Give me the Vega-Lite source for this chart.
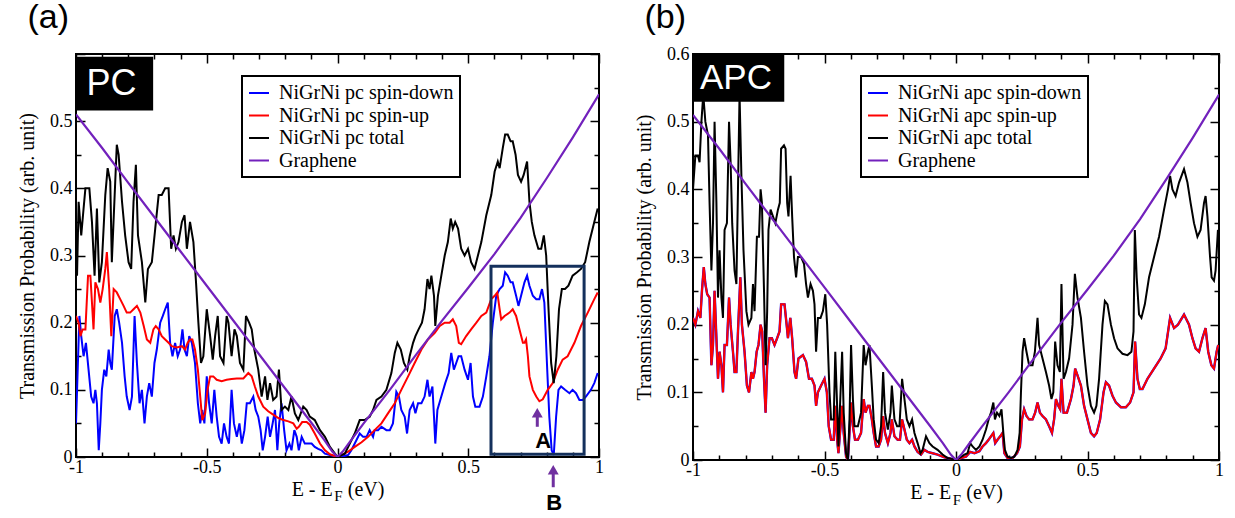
{
"$schema": "https://vega.github.io/schema/vega-lite/v6.json",
"background": "white",
"padding": {"left": 16, "top": 0, "right": 0, "bottom": 0},
"config": {
  "view": {"stroke": "#000", "strokeWidth": 2},
  "axis": {"labelFont": "Liberation Serif", "labelFontSize": 18, "labelColor": "#000", "titleFont": "Liberation Serif", "titleFontSize": 20, "titleFontWeight": "normal", "titleColor": "#000", "tickColor": "#000", "tickWidth": 1.5, "domain": false, "grid": false, "labelFlush": false, "labelOverlap": false, "labelBound": false},
  "legend": {"orient": "none", "title": null, "symbolType": "stroke", "symbolSize": 400, "symbolStrokeWidth": 2, "labelFont": "Liberation Serif", "labelFontSize": 20, "labelColor": "#000", "labelLimit": 300, "labelOffset": 9, "strokeColor": "#000", "strokeWidth": 2, "padding": 6, "rowPadding": 1.5, "fillColor": "#fff"},
  "title": {"font": "Liberation Sans", "fontSize": 34, "fontWeight": "normal", "anchor": "start", "color": "#000"}
},
"datasets": {
  "pcDown": [{"x":-1,"y":0.05},{"x":-0.987,"y":0.21},{"x":-0.98,"y":0.18},{"x":-0.971,"y":0.15},{"x":-0.962,"y":0.17},{"x":-0.952,"y":0.13},{"x":-0.942,"y":0.09},{"x":-0.933,"y":0.08},{"x":-0.926,"y":0.1},{"x":-0.92,"y":0.08},{"x":-0.913,"y":0.01},{"x":-0.907,"y":0.05},{"x":-0.901,"y":0.1},{"x":-0.892,"y":0.13},{"x":-0.884,"y":0.12},{"x":-0.875,"y":0.16},{"x":-0.869,"y":0.14},{"x":-0.863,"y":0.13},{"x":-0.852,"y":0.21},{"x":-0.844,"y":0.22},{"x":-0.835,"y":0.2},{"x":-0.824,"y":0.17},{"x":-0.814,"y":0.12},{"x":-0.806,"y":0.09},{"x":-0.795,"y":0.07},{"x":-0.786,"y":0.09},{"x":-0.776,"y":0.21},{"x":-0.767,"y":0.14},{"x":-0.757,"y":0.08},{"x":-0.748,"y":0.1},{"x":-0.738,"y":0.05},{"x":-0.729,"y":0.09},{"x":-0.72,"y":0.11},{"x":-0.71,"y":0.09},{"x":-0.7,"y":0.14},{"x":-0.691,"y":0.16},{"x":-0.678,"y":0.2},{"x":-0.668,"y":0.21},{"x":-0.659,"y":0.22},{"x":-0.649,"y":0.23},{"x":-0.64,"y":0.17},{"x":-0.631,"y":0.15},{"x":-0.621,"y":0.17},{"x":-0.611,"y":0.15},{"x":-0.602,"y":0.16},{"x":-0.593,"y":0.19},{"x":-0.585,"y":0.16},{"x":-0.576,"y":0.15},{"x":-0.567,"y":0.18},{"x":-0.557,"y":0.17},{"x":-0.545,"y":0.14},{"x":-0.534,"y":0.08},{"x":-0.525,"y":0.05},{"x":-0.517,"y":0.07},{"x":-0.509,"y":0.05},{"x":-0.5,"y":0.12},{"x":-0.491,"y":0.08},{"x":-0.481,"y":0.05},{"x":-0.471,"y":0.1},{"x":-0.462,"y":0.06},{"x":-0.453,"y":0.03},{"x":-0.443,"y":0.02},{"x":-0.434,"y":0.05},{"x":-0.424,"y":0.03},{"x":-0.415,"y":0.02},{"x":-0.405,"y":0.1},{"x":-0.396,"y":0.05},{"x":-0.385,"y":0.03},{"x":-0.375,"y":0.05},{"x":-0.366,"y":0.02},{"x":-0.356,"y":0.04},{"x":-0.347,"y":0.08},{"x":-0.335,"y":0.08},{"x":-0.322,"y":0.09},{"x":-0.313,"y":0.07},{"x":-0.303,"y":0.06},{"x":-0.294,"y":0.04},{"x":-0.286,"y":0.01},{"x":-0.277,"y":0.03},{"x":-0.267,"y":0.06},{"x":-0.258,"y":0.03},{"x":-0.248,"y":0.05},{"x":-0.239,"y":0.07},{"x":-0.23,"y":0.01},{"x":-0.223,"y":0.05},{"x":-0.214,"y":0.08},{"x":-0.204,"y":0.04},{"x":-0.195,"y":0.01},{"x":-0.184,"y":0.02},{"x":-0.176,"y":0.01},{"x":-0.165,"y":0.04},{"x":-0.156,"y":0.03},{"x":-0.148,"y":0.01},{"x":-0.137,"y":0.03},{"x":-0.125,"y":0.02},{"x":-0.112,"y":0.02},{"x":-0.099,"y":0.02},{"x":-0.087,"y":0.015},{"x":-0.074,"y":0.012},{"x":-0.061,"y":0.01},{"x":-0.048,"y":0.005},{"x":-0.029,"y":0.003},{"x":0,"y":0},{"x":0.022,"y":0.001},{"x":0.041,"y":0.003},{"x":0.053,"y":0.01},{"x":0.066,"y":0.02},{"x":0.085,"y":0.035},{"x":0.098,"y":0.03},{"x":0.111,"y":0.03},{"x":0.123,"y":0.04},{"x":0.136,"y":0.03},{"x":0.142,"y":0.04},{"x":0.155,"y":0.04},{"x":0.168,"y":0.045},{"x":0.187,"y":0.04},{"x":0.2,"y":0.04},{"x":0.212,"y":0.05},{"x":0.225,"y":0.097},{"x":0.235,"y":0.09},{"x":0.244,"y":0.07},{"x":0.257,"y":0.06},{"x":0.266,"y":0.035},{"x":0.276,"y":0.07},{"x":0.289,"y":0.08},{"x":0.298,"y":0.065},{"x":0.308,"y":0.08},{"x":0.321,"y":0.08},{"x":0.333,"y":0.09},{"x":0.344,"y":0.115},{"x":0.352,"y":0.09},{"x":0.363,"y":0.105},{"x":0.369,"y":0.06},{"x":0.374,"y":0.02},{"x":0.382,"y":0.07},{"x":0.397,"y":0.09},{"x":0.412,"y":0.11},{"x":0.425,"y":0.125},{"x":0.435,"y":0.155},{"x":0.445,"y":0.13},{"x":0.454,"y":0.14},{"x":0.463,"y":0.15},{"x":0.473,"y":0.15},{"x":0.486,"y":0.13},{"x":0.499,"y":0.115},{"x":0.509,"y":0.14},{"x":0.518,"y":0.09},{"x":0.527,"y":0.075},{"x":0.543,"y":0.075},{"x":0.556,"y":0.09},{"x":0.569,"y":0.12},{"x":0.581,"y":0.15},{"x":0.594,"y":0.2},{"x":0.607,"y":0.24},{"x":0.62,"y":0.25},{"x":0.632,"y":0.255},{"x":0.641,"y":0.275},{"x":0.651,"y":0.27},{"x":0.662,"y":0.26},{"x":0.67,"y":0.26},{"x":0.683,"y":0.24},{"x":0.692,"y":0.225},{"x":0.702,"y":0.24},{"x":0.715,"y":0.26},{"x":0.725,"y":0.27},{"x":0.734,"y":0.255},{"x":0.747,"y":0.24},{"x":0.76,"y":0.235},{"x":0.772,"y":0.235},{"x":0.782,"y":0.25},{"x":0.791,"y":0.23},{"x":0.802,"y":0.13},{"x":0.81,"y":0.06},{"x":0.819,"y":0.01},{"x":0.827,"y":0.003},{"x":0.836,"y":0.06},{"x":0.845,"y":0.1},{"x":0.855,"y":0.105},{"x":0.87,"y":0.1},{"x":0.887,"y":0.095},{"x":0.899,"y":0.1},{"x":0.912,"y":0.095},{"x":0.925,"y":0.085},{"x":0.938,"y":0.085},{"x":0.95,"y":0.09},{"x":0.969,"y":0.1},{"x":0.982,"y":0.11},{"x":0.995,"y":0.125}],
  "pcUp": [{"x":-1,"y":0.21},{"x":-0.99,"y":0.2},{"x":-0.983,"y":0.18},{"x":-0.975,"y":0.19},{"x":-0.964,"y":0.19},{"x":-0.954,"y":0.27},{"x":-0.945,"y":0.27},{"x":-0.939,"y":0.23},{"x":-0.933,"y":0.19},{"x":-0.926,"y":0.26},{"x":-0.916,"y":0.25},{"x":-0.907,"y":0.23},{"x":-0.898,"y":0.25},{"x":-0.888,"y":0.28},{"x":-0.882,"y":0.305},{"x":-0.873,"y":0.25},{"x":-0.865,"y":0.18},{"x":-0.856,"y":0.25},{"x":-0.844,"y":0.245},{"x":-0.831,"y":0.235},{"x":-0.818,"y":0.225},{"x":-0.806,"y":0.215},{"x":-0.793,"y":0.215},{"x":-0.78,"y":0.22},{"x":-0.767,"y":0.225},{"x":-0.754,"y":0.215},{"x":-0.741,"y":0.195},{"x":-0.729,"y":0.175},{"x":-0.716,"y":0.17},{"x":-0.704,"y":0.19},{"x":-0.695,"y":0.195},{"x":-0.684,"y":0.19},{"x":-0.672,"y":0.18},{"x":-0.659,"y":0.175},{"x":-0.646,"y":0.17},{"x":-0.634,"y":0.165},{"x":-0.615,"y":0.163},{"x":-0.595,"y":0.165},{"x":-0.583,"y":0.16},{"x":-0.573,"y":0.17},{"x":-0.564,"y":0.175},{"x":-0.555,"y":0.175},{"x":-0.545,"y":0.16},{"x":-0.534,"y":0.13},{"x":-0.525,"y":0.09},{"x":-0.517,"y":0.055},{"x":-0.506,"y":0.065},{"x":-0.497,"y":0.1},{"x":-0.487,"y":0.12},{"x":-0.475,"y":0.12},{"x":-0.462,"y":0.115},{"x":-0.443,"y":0.113},{"x":-0.424,"y":0.115},{"x":-0.405,"y":0.116},{"x":-0.385,"y":0.117},{"x":-0.36,"y":0.117},{"x":-0.341,"y":0.125},{"x":-0.328,"y":0.12},{"x":-0.316,"y":0.105},{"x":-0.303,"y":0.09},{"x":-0.284,"y":0.075},{"x":-0.265,"y":0.068},{"x":-0.246,"y":0.063},{"x":-0.226,"y":0.058},{"x":-0.207,"y":0.055},{"x":-0.188,"y":0.053},{"x":-0.169,"y":0.05},{"x":-0.156,"y":0.042},{"x":-0.148,"y":0.045},{"x":-0.135,"y":0.052},{"x":-0.118,"y":0.052},{"x":-0.106,"y":0.048},{"x":-0.087,"y":0.035},{"x":-0.067,"y":0.02},{"x":-0.048,"y":0.01},{"x":-0.029,"y":0.004},{"x":0,"y":0},{"x":0.041,"y":0.008},{"x":0.066,"y":0.015},{"x":0.092,"y":0.022},{"x":0.117,"y":0.03},{"x":0.142,"y":0.04},{"x":0.168,"y":0.05},{"x":0.193,"y":0.065},{"x":0.219,"y":0.08},{"x":0.244,"y":0.1},{"x":0.27,"y":0.12},{"x":0.295,"y":0.14},{"x":0.321,"y":0.16},{"x":0.346,"y":0.175},{"x":0.372,"y":0.185},{"x":0.391,"y":0.195},{"x":0.41,"y":0.2},{"x":0.429,"y":0.2},{"x":0.441,"y":0.205},{"x":0.454,"y":0.195},{"x":0.464,"y":0.17},{"x":0.473,"y":0.168},{"x":0.492,"y":0.18},{"x":0.511,"y":0.19},{"x":0.531,"y":0.2},{"x":0.55,"y":0.21},{"x":0.569,"y":0.215},{"x":0.588,"y":0.235},{"x":0.601,"y":0.24},{"x":0.611,"y":0.245},{"x":0.62,"y":0.22},{"x":0.626,"y":0.205},{"x":0.639,"y":0.21},{"x":0.658,"y":0.215},{"x":0.67,"y":0.22},{"x":0.683,"y":0.21},{"x":0.696,"y":0.19},{"x":0.709,"y":0.17},{"x":0.715,"y":0.17},{"x":0.721,"y":0.175},{"x":0.728,"y":0.15},{"x":0.734,"y":0.12},{"x":0.747,"y":0.1},{"x":0.76,"y":0.09},{"x":0.772,"y":0.083},{"x":0.785,"y":0.086},{"x":0.804,"y":0.1},{"x":0.823,"y":0.11},{"x":0.842,"y":0.13},{"x":0.861,"y":0.145},{"x":0.88,"y":0.15},{"x":0.906,"y":0.17},{"x":0.931,"y":0.195},{"x":0.957,"y":0.215},{"x":0.982,"y":0.235},{"x":0.995,"y":0.245}],
  "pcTot": [{"x":-0.996,"y":0.27},{"x":-0.99,"y":0.38},{"x":-0.98,"y":0.33},{"x":-0.971,"y":0.37},{"x":-0.964,"y":0.4},{"x":-0.949,"y":0.4},{"x":-0.939,"y":0.35},{"x":-0.929,"y":0.27},{"x":-0.92,"y":0.37},{"x":-0.911,"y":0.26},{"x":-0.901,"y":0.29},{"x":-0.888,"y":0.39},{"x":-0.879,"y":0.43},{"x":-0.869,"y":0.41},{"x":-0.863,"y":0.29},{"x":-0.844,"y":0.465},{"x":-0.837,"y":0.45},{"x":-0.824,"y":0.38},{"x":-0.812,"y":0.33},{"x":-0.799,"y":0.29},{"x":-0.789,"y":0.28},{"x":-0.78,"y":0.38},{"x":-0.771,"y":0.435},{"x":-0.763,"y":0.33},{"x":-0.748,"y":0.29},{"x":-0.735,"y":0.23},{"x":-0.725,"y":0.28},{"x":-0.71,"y":0.29},{"x":-0.697,"y":0.34},{"x":-0.684,"y":0.39},{"x":-0.672,"y":0.39},{"x":-0.659,"y":0.4},{"x":-0.646,"y":0.4},{"x":-0.636,"y":0.31},{"x":-0.627,"y":0.33},{"x":-0.618,"y":0.31},{"x":-0.608,"y":0.32},{"x":-0.595,"y":0.35},{"x":-0.585,"y":0.36},{"x":-0.576,"y":0.31},{"x":-0.564,"y":0.35},{"x":-0.551,"y":0.32},{"x":-0.541,"y":0.26},{"x":-0.532,"y":0.2},{"x":-0.522,"y":0.14},{"x":-0.513,"y":0.15},{"x":-0.5,"y":0.22},{"x":-0.487,"y":0.18},{"x":-0.477,"y":0.145},{"x":-0.468,"y":0.18},{"x":-0.458,"y":0.21},{"x":-0.449,"y":0.15},{"x":-0.436,"y":0.14},{"x":-0.424,"y":0.21},{"x":-0.417,"y":0.2},{"x":-0.405,"y":0.15},{"x":-0.394,"y":0.19},{"x":-0.385,"y":0.18},{"x":-0.373,"y":0.14},{"x":-0.36,"y":0.13},{"x":-0.35,"y":0.21},{"x":-0.338,"y":0.2},{"x":-0.328,"y":0.19},{"x":-0.318,"y":0.16},{"x":-0.303,"y":0.13},{"x":-0.29,"y":0.09},{"x":-0.277,"y":0.12},{"x":-0.268,"y":0.085},{"x":-0.258,"y":0.11},{"x":-0.246,"y":0.085},{"x":-0.233,"y":0.09},{"x":-0.224,"y":0.13},{"x":-0.214,"y":0.07},{"x":-0.201,"y":0.075},{"x":-0.188,"y":0.07},{"x":-0.176,"y":0.09},{"x":-0.163,"y":0.065},{"x":-0.15,"y":0.055},{"x":-0.131,"y":0.075},{"x":-0.118,"y":0.07},{"x":-0.106,"y":0.06},{"x":-0.087,"y":0.055},{"x":-0.067,"y":0.04},{"x":-0.048,"y":0.03},{"x":-0.029,"y":0.015},{"x":0,"y":0},{"x":0.028,"y":0.005},{"x":0.047,"y":0.02},{"x":0.066,"y":0.035},{"x":0.085,"y":0.055},{"x":0.104,"y":0.055},{"x":0.123,"y":0.06},{"x":0.136,"y":0.07},{"x":0.149,"y":0.085},{"x":0.168,"y":0.09},{"x":0.187,"y":0.1},{"x":0.206,"y":0.125},{"x":0.219,"y":0.155},{"x":0.229,"y":0.17},{"x":0.242,"y":0.16},{"x":0.254,"y":0.14},{"x":0.267,"y":0.13},{"x":0.276,"y":0.15},{"x":0.289,"y":0.17},{"x":0.298,"y":0.18},{"x":0.31,"y":0.19},{"x":0.323,"y":0.2},{"x":0.333,"y":0.22},{"x":0.344,"y":0.265},{"x":0.352,"y":0.25},{"x":0.359,"y":0.27},{"x":0.369,"y":0.24},{"x":0.374,"y":0.195},{"x":0.384,"y":0.24},{"x":0.397,"y":0.27},{"x":0.41,"y":0.3},{"x":0.422,"y":0.32},{"x":0.433,"y":0.355},{"x":0.441,"y":0.34},{"x":0.45,"y":0.35},{"x":0.461,"y":0.34},{"x":0.473,"y":0.31},{"x":0.486,"y":0.3},{"x":0.499,"y":0.31},{"x":0.511,"y":0.29},{"x":0.524,"y":0.28},{"x":0.537,"y":0.3},{"x":0.55,"y":0.32},{"x":0.569,"y":0.36},{"x":0.588,"y":0.39},{"x":0.601,"y":0.425},{"x":0.613,"y":0.44},{"x":0.62,"y":0.43},{"x":0.632,"y":0.46},{"x":0.641,"y":0.48},{"x":0.651,"y":0.48},{"x":0.662,"y":0.47},{"x":0.67,"y":0.47},{"x":0.681,"y":0.45},{"x":0.69,"y":0.42},{"x":0.702,"y":0.41},{"x":0.712,"y":0.42},{"x":0.725,"y":0.44},{"x":0.734,"y":0.38},{"x":0.743,"y":0.35},{"x":0.753,"y":0.33},{"x":0.768,"y":0.31},{"x":0.779,"y":0.31},{"x":0.789,"y":0.33},{"x":0.798,"y":0.3},{"x":0.807,"y":0.22},{"x":0.817,"y":0.14},{"x":0.827,"y":0.11},{"x":0.837,"y":0.15},{"x":0.847,"y":0.22},{"x":0.858,"y":0.25},{"x":0.87,"y":0.25},{"x":0.883,"y":0.255},{"x":0.899,"y":0.27},{"x":0.916,"y":0.275},{"x":0.931,"y":0.28},{"x":0.947,"y":0.29},{"x":0.963,"y":0.32},{"x":0.982,"y":0.35},{"x":0.995,"y":0.37}],
  "graphene": [{"x":-1,"y":0.51},{"x":-0.9,"y":0.46},{"x":-0.8,"y":0.408},{"x":-0.7,"y":0.357},{"x":-0.6,"y":0.306},{"x":-0.5,"y":0.255},{"x":-0.4,"y":0.204},{"x":-0.3,"y":0.153},{"x":-0.2,"y":0.102},{"x":-0.1,"y":0.051},{"x":-0.05,"y":0.025},{"x":-0.02,"y":0.008},{"x":0,"y":0},{"x":0.02,"y":0.008},{"x":0.05,"y":0.024},{"x":0.1,"y":0.05},{"x":0.2,"y":0.1},{"x":0.3,"y":0.152},{"x":0.4,"y":0.203},{"x":0.5,"y":0.252},{"x":0.6,"y":0.302},{"x":0.7,"y":0.356},{"x":0.8,"y":0.415},{"x":0.9,"y":0.476},{"x":1,"y":0.54}],
  "apcSpin": [{"x":-1,"y":0.21},{"x":-0.991,"y":0.2},{"x":-0.981,"y":0.22},{"x":-0.972,"y":0.21},{"x":-0.966,"y":0.25},{"x":-0.959,"y":0.285},{"x":-0.953,"y":0.26},{"x":-0.946,"y":0.245},{"x":-0.937,"y":0.24},{"x":-0.93,"y":0.14},{"x":-0.924,"y":0.17},{"x":-0.918,"y":0.25},{"x":-0.911,"y":0.18},{"x":-0.905,"y":0.12},{"x":-0.899,"y":0.16},{"x":-0.892,"y":0.14},{"x":-0.886,"y":0.1},{"x":-0.88,"y":0.17},{"x":-0.871,"y":0.17},{"x":-0.863,"y":0.24},{"x":-0.857,"y":0.2},{"x":-0.848,"y":0.16},{"x":-0.842,"y":0.13},{"x":-0.835,"y":0.13},{"x":-0.829,"y":0.19},{"x":-0.82,"y":0.27},{"x":-0.814,"y":0.2},{"x":-0.804,"y":0.16},{"x":-0.795,"y":0.11},{"x":-0.787,"y":0.1},{"x":-0.778,"y":0.13},{"x":-0.772,"y":0.12},{"x":-0.766,"y":0.13},{"x":-0.758,"y":0.16},{"x":-0.751,"y":0.17},{"x":-0.743,"y":0.2},{"x":-0.737,"y":0.19},{"x":-0.73,"y":0.12},{"x":-0.724,"y":0.07},{"x":-0.718,"y":0.14},{"x":-0.709,"y":0.18},{"x":-0.7,"y":0.18},{"x":-0.69,"y":0.17},{"x":-0.68,"y":0.18},{"x":-0.671,"y":0.19},{"x":-0.665,"y":0.23},{"x":-0.652,"y":0.23},{"x":-0.644,"y":0.2},{"x":-0.639,"y":0.18},{"x":-0.63,"y":0.21},{"x":-0.623,"y":0.18},{"x":-0.614,"y":0.13},{"x":-0.608,"y":0.12},{"x":-0.599,"y":0.15},{"x":-0.582,"y":0.155},{"x":-0.57,"y":0.145},{"x":-0.559,"y":0.12},{"x":-0.548,"y":0.12},{"x":-0.538,"y":0.11},{"x":-0.532,"y":0.08},{"x":-0.525,"y":0.1},{"x":-0.513,"y":0.11},{"x":-0.5,"y":0.12},{"x":-0.491,"y":0.1},{"x":-0.484,"y":0.05},{"x":-0.475,"y":0.03},{"x":-0.465,"y":0.03},{"x":-0.459,"y":0.08},{"x":-0.452,"y":0.03},{"x":-0.447,"y":0.01},{"x":-0.439,"y":0.05},{"x":-0.433,"y":0.08},{"x":-0.427,"y":0.04},{"x":-0.418,"y":0.005},{"x":-0.411,"y":0},{"x":-0.405,"y":0.04},{"x":-0.399,"y":0.085},{"x":-0.392,"y":0.05},{"x":-0.384,"y":0.03},{"x":-0.373,"y":0.03},{"x":-0.361,"y":0.04},{"x":-0.351,"y":0.09},{"x":-0.344,"y":0.07},{"x":-0.335,"y":0.08},{"x":-0.329,"y":0.08},{"x":-0.32,"y":0.06},{"x":-0.313,"y":0.04},{"x":-0.304,"y":0.02},{"x":-0.294,"y":0.02},{"x":-0.285,"y":0.03},{"x":-0.277,"y":0.065},{"x":-0.27,"y":0.04},{"x":-0.259,"y":0.025},{"x":-0.249,"y":0.04},{"x":-0.244,"y":0.06},{"x":-0.234,"y":0.035},{"x":-0.222,"y":0.03},{"x":-0.213,"y":0.03},{"x":-0.205,"y":0.06},{"x":-0.196,"y":0.045},{"x":-0.187,"y":0.03},{"x":-0.177,"y":0.025},{"x":-0.167,"y":0.03},{"x":-0.158,"y":0.02},{"x":-0.146,"y":0.012},{"x":-0.133,"y":0.008},{"x":-0.12,"y":0.015},{"x":-0.108,"y":0.012},{"x":-0.089,"y":0.01},{"x":-0.07,"y":0.008},{"x":-0.044,"y":0.004},{"x":0,"y":0},{"x":0.019,"y":0.003},{"x":0.038,"y":0.005},{"x":0.054,"y":0.012},{"x":0.07,"y":0.01},{"x":0.089,"y":0.013},{"x":0.101,"y":0.02},{"x":0.114,"y":0.025},{"x":0.124,"y":0.03},{"x":0.133,"y":0.035},{"x":0.142,"y":0.04},{"x":0.149,"y":0.025},{"x":0.158,"y":0.03},{"x":0.168,"y":0.035},{"x":0.177,"y":0.04},{"x":0.184,"y":0.01},{"x":0.196,"y":0.003},{"x":0.215,"y":0.003},{"x":0.232,"y":0.01},{"x":0.243,"y":0.02},{"x":0.251,"y":0.06},{"x":0.259,"y":0.075},{"x":0.268,"y":0.065},{"x":0.278,"y":0.06},{"x":0.291,"y":0.06},{"x":0.301,"y":0.07},{"x":0.31,"y":0.085},{"x":0.319,"y":0.07},{"x":0.329,"y":0.065},{"x":0.342,"y":0.06},{"x":0.354,"y":0.05},{"x":0.365,"y":0.04},{"x":0.373,"y":0.06},{"x":0.38,"y":0.09},{"x":0.389,"y":0.08},{"x":0.396,"y":0.075},{"x":0.401,"y":0.12},{"x":0.409,"y":0.07},{"x":0.422,"y":0.07},{"x":0.437,"y":0.09},{"x":0.447,"y":0.11},{"x":0.453,"y":0.135},{"x":0.462,"y":0.125},{"x":0.475,"y":0.11},{"x":0.487,"y":0.08},{"x":0.5,"y":0.06},{"x":0.513,"y":0.04},{"x":0.525,"y":0.035},{"x":0.535,"y":0.04},{"x":0.548,"y":0.06},{"x":0.561,"y":0.1},{"x":0.57,"y":0.115},{"x":0.582,"y":0.11},{"x":0.595,"y":0.095},{"x":0.608,"y":0.085},{"x":0.627,"y":0.078},{"x":0.646,"y":0.078},{"x":0.662,"y":0.085},{"x":0.675,"y":0.1},{"x":0.681,"y":0.175},{"x":0.69,"y":0.12},{"x":0.699,"y":0.105},{"x":0.709,"y":0.105},{"x":0.728,"y":0.12},{"x":0.753,"y":0.135},{"x":0.778,"y":0.15},{"x":0.797,"y":0.165},{"x":0.814,"y":0.21},{"x":0.829,"y":0.195},{"x":0.844,"y":0.2},{"x":0.867,"y":0.215},{"x":0.886,"y":0.2},{"x":0.899,"y":0.18},{"x":0.911,"y":0.165},{"x":0.924,"y":0.16},{"x":0.937,"y":0.18},{"x":0.949,"y":0.195},{"x":0.959,"y":0.16},{"x":0.971,"y":0.14},{"x":0.981,"y":0.135},{"x":0.991,"y":0.16},{"x":0.997,"y":0.17}],
  "apcTot": [{"x":-1,"y":0.4},{"x":-0.991,"y":0.45},{"x":-0.981,"y":0.45},{"x":-0.975,"y":0.44},{"x":-0.968,"y":0.5},{"x":-0.961,"y":0.54},{"x":-0.953,"y":0.5},{"x":-0.943,"y":0.48},{"x":-0.937,"y":0.38},{"x":-0.93,"y":0.28},{"x":-0.924,"y":0.35},{"x":-0.918,"y":0.5},{"x":-0.911,"y":0.38},{"x":-0.905,"y":0.24},{"x":-0.899,"y":0.31},{"x":-0.892,"y":0.24},{"x":-0.886,"y":0.21},{"x":-0.88,"y":0.34},{"x":-0.871,"y":0.35},{"x":-0.863,"y":0.5},{"x":-0.857,"y":0.44},{"x":-0.851,"y":0.35},{"x":-0.842,"y":0.28},{"x":-0.835,"y":0.26},{"x":-0.829,"y":0.4},{"x":-0.823,"y":0.54},{"x":-0.816,"y":0.42},{"x":-0.808,"y":0.31},{"x":-0.797,"y":0.22},{"x":-0.789,"y":0.2},{"x":-0.778,"y":0.21},{"x":-0.772,"y":0.26},{"x":-0.766,"y":0.22},{"x":-0.757,"y":0.33},{"x":-0.749,"y":0.33},{"x":-0.743,"y":0.4},{"x":-0.738,"y":0.38},{"x":-0.73,"y":0.25},{"x":-0.724,"y":0.14},{"x":-0.718,"y":0.22},{"x":-0.713,"y":0.34},{"x":-0.705,"y":0.37},{"x":-0.696,"y":0.36},{"x":-0.687,"y":0.35},{"x":-0.677,"y":0.37},{"x":-0.67,"y":0.38},{"x":-0.665,"y":0.46},{"x":-0.654,"y":0.465},{"x":-0.648,"y":0.46},{"x":-0.642,"y":0.38},{"x":-0.637,"y":0.36},{"x":-0.629,"y":0.42},{"x":-0.623,"y":0.36},{"x":-0.616,"y":0.3},{"x":-0.608,"y":0.27},{"x":-0.601,"y":0.3},{"x":-0.589,"y":0.3},{"x":-0.578,"y":0.29},{"x":-0.57,"y":0.26},{"x":-0.563,"y":0.24},{"x":-0.553,"y":0.26},{"x":-0.544,"y":0.25},{"x":-0.538,"y":0.23},{"x":-0.532,"y":0.16},{"x":-0.525,"y":0.21},{"x":-0.515,"y":0.21},{"x":-0.506,"y":0.22},{"x":-0.497,"y":0.245},{"x":-0.49,"y":0.2},{"x":-0.481,"y":0.1},{"x":-0.475,"y":0.06},{"x":-0.465,"y":0.06},{"x":-0.459,"y":0.16},{"x":-0.452,"y":0.08},{"x":-0.447,"y":0.02},{"x":-0.439,"y":0.1},{"x":-0.433,"y":0.16},{"x":-0.427,"y":0.07},{"x":-0.418,"y":0.01},{"x":-0.411,"y":0},{"x":-0.405,"y":0.06},{"x":-0.399,"y":0.17},{"x":-0.392,"y":0.09},{"x":-0.386,"y":0.05},{"x":-0.373,"y":0.05},{"x":-0.361,"y":0.07},{"x":-0.351,"y":0.17},{"x":-0.344,"y":0.14},{"x":-0.335,"y":0.16},{"x":-0.329,"y":0.17},{"x":-0.32,"y":0.11},{"x":-0.313,"y":0.06},{"x":-0.304,"y":0.03},{"x":-0.294,"y":0.025},{"x":-0.285,"y":0.05},{"x":-0.277,"y":0.13},{"x":-0.27,"y":0.07},{"x":-0.259,"y":0.045},{"x":-0.249,"y":0.07},{"x":-0.244,"y":0.11},{"x":-0.234,"y":0.06},{"x":-0.224,"y":0.05},{"x":-0.215,"y":0.05},{"x":-0.205,"y":0.12},{"x":-0.196,"y":0.09},{"x":-0.187,"y":0.06},{"x":-0.177,"y":0.05},{"x":-0.167,"y":0.06},{"x":-0.158,"y":0.04},{"x":-0.146,"y":0.025},{"x":-0.135,"y":0.01},{"x":-0.127,"y":0.015},{"x":-0.114,"y":0.035},{"x":-0.101,"y":0.025},{"x":-0.089,"y":0.02},{"x":-0.07,"y":0.015},{"x":-0.051,"y":0.008},{"x":-0.032,"y":0.003},{"x":0,"y":0},{"x":0.013,"y":0.003},{"x":0.032,"y":0.008},{"x":0.044,"y":0.01},{"x":0.054,"y":0.025},{"x":0.063,"y":0.02},{"x":0.076,"y":0.015},{"x":0.089,"y":0.02},{"x":0.101,"y":0.03},{"x":0.114,"y":0.045},{"x":0.124,"y":0.06},{"x":0.133,"y":0.07},{"x":0.142,"y":0.085},{"x":0.148,"y":0.06},{"x":0.156,"y":0.07},{"x":0.165,"y":0.065},{"x":0.173,"y":0.075},{"x":0.18,"y":0.04},{"x":0.186,"y":0.015},{"x":0.196,"y":0.005},{"x":0.209,"y":0.003},{"x":0.222,"y":0.005},{"x":0.234,"y":0.015},{"x":0.242,"y":0.04},{"x":0.247,"y":0.1},{"x":0.253,"y":0.16},{"x":0.259,"y":0.18},{"x":0.268,"y":0.16},{"x":0.278,"y":0.14},{"x":0.291,"y":0.14},{"x":0.3,"y":0.16},{"x":0.31,"y":0.21},{"x":0.316,"y":0.17},{"x":0.329,"y":0.15},{"x":0.342,"y":0.13},{"x":0.354,"y":0.11},{"x":0.363,"y":0.09},{"x":0.37,"y":0.1},{"x":0.377,"y":0.175},{"x":0.386,"y":0.14},{"x":0.395,"y":0.13},{"x":0.401,"y":0.26},{"x":0.409,"y":0.12},{"x":0.418,"y":0.13},{"x":0.43,"y":0.15},{"x":0.443,"y":0.2},{"x":0.452,"y":0.275},{"x":0.462,"y":0.24},{"x":0.475,"y":0.21},{"x":0.487,"y":0.16},{"x":0.5,"y":0.11},{"x":0.513,"y":0.08},{"x":0.525,"y":0.07},{"x":0.534,"y":0.08},{"x":0.544,"y":0.12},{"x":0.557,"y":0.2},{"x":0.566,"y":0.235},{"x":0.576,"y":0.23},{"x":0.589,"y":0.2},{"x":0.601,"y":0.18},{"x":0.614,"y":0.165},{"x":0.633,"y":0.157},{"x":0.652,"y":0.155},{"x":0.667,"y":0.16},{"x":0.675,"y":0.19},{"x":0.68,"y":0.34},{"x":0.687,"y":0.27},{"x":0.696,"y":0.215},{"x":0.705,"y":0.21},{"x":0.718,"y":0.23},{"x":0.734,"y":0.27},{"x":0.753,"y":0.3},{"x":0.772,"y":0.33},{"x":0.791,"y":0.37},{"x":0.806,"y":0.4},{"x":0.814,"y":0.42},{"x":0.823,"y":0.4},{"x":0.835,"y":0.39},{"x":0.848,"y":0.41},{"x":0.867,"y":0.43},{"x":0.88,"y":0.41},{"x":0.892,"y":0.38},{"x":0.905,"y":0.35},{"x":0.918,"y":0.33},{"x":0.93,"y":0.34},{"x":0.943,"y":0.38},{"x":0.949,"y":0.39},{"x":0.956,"y":0.36},{"x":0.966,"y":0.3},{"x":0.972,"y":0.27},{"x":0.981,"y":0.265},{"x":0.987,"y":0.28},{"x":0.996,"y":0.34}]
},
"resolve": {"scale": {"color": "independent"}},
"spacing": 28,
"hconcat": [
 {
  "width": 523, "height": 403,
  "title": {"text": "(a)", "offset": 10, "dx": 10},
  "layer": [
   {"data": {"name": "pcDown"}, "mark": {"type": "line", "strokeWidth": 2, "clip": true},
    "encoding": {
     "x": {"field": "x", "type": "quantitative", "scale": {"domain": [-1, 1], "nice": false, "zero": false},
       "axis": {"orient": "bottom", "values": [-1,-0.9,-0.8,-0.7,-0.6,-0.5,-0.4,-0.3,-0.2,-0.1,0,0.1,0.2,0.3,0.4,0.5,0.6,0.7,0.8,0.9,1],
         "labelExpr": "abs(datum.value*2-round(datum.value*2))<0.001 ? ''+datum.value : ''",
         "tickSize": {"condition": {"test": "abs(datum.value*2-round(datum.value*2))<0.001", "value": -9}, "value": -5},
         "labelPadding": 10, "title": "E - E\u00a0\u00a0\u00a0(eV)", "titlePadding": -1}},
     "y": {"field": "y", "type": "quantitative", "scale": {"domain": [0, 0.6], "nice": false, "zero": false},
       "axis": {"orient": "left", "values": [0,0.05,0.1,0.15,0.2,0.25,0.3,0.35,0.4,0.45,0.5,0.55,0.6],
         "labelExpr": "abs(datum.value*10-round(datum.value*10))<0.001 && datum.value<0.55 ? ''+datum.value : ''",
         "tickSize": {"condition": {"test": "abs(datum.value*10-round(datum.value*10))<0.001", "value": -9}, "value": -5},
         "labelPadding": 13, "title": "Transmission Probability (arb. unit)", "titlePadding": 12}},
     "color": {"datum": "NiGrNi pc spin-down", "type": "nominal",
       "scale": {"domain": ["NiGrNi pc spin-down", "NiGrNi pc spin-up", "NiGrNi pc total", "Graphene"], "range": ["#0000ff", "#ff0000", "#000000", "#7221bc"]},
       "legend": {"legendX": 166, "legendY": 22}}
    }},
   {"data": {"name": "pcUp"}, "mark": {"type": "line", "strokeWidth": 2, "clip": true},
    "encoding": {
     "x": {"field": "x", "type": "quantitative",
       "axis": {"orient": "top", "values": [-1,-0.9,-0.8,-0.7,-0.6,-0.5,-0.4,-0.3,-0.2,-0.1,0,0.1,0.2,0.3,0.4,0.5,0.6,0.7,0.8,0.9,1], "labels": false, "title": null,
         "tickSize": {"condition": {"test": "abs(datum.value*2-round(datum.value*2))<0.001", "value": -9}, "value": -5}}},
     "y": {"field": "y", "type": "quantitative",
       "axis": {"orient": "right", "values": [0,0.05,0.1,0.15,0.2,0.25,0.3,0.35,0.4,0.45,0.5,0.55,0.6], "labels": false, "title": null,
         "tickSize": {"condition": {"test": "abs(datum.value*10-round(datum.value*10))<0.001", "value": -9}, "value": -5}}},
     "color": {"datum": "NiGrNi pc spin-up", "type": "nominal"}
    }},
   {"data": {"name": "pcTot"}, "mark": {"type": "line", "strokeWidth": 2, "clip": true},
    "encoding": {
     "x": {"field": "x", "type": "quantitative", "axis": null},
     "y": {"field": "y", "type": "quantitative", "axis": null},
     "color": {"datum": "NiGrNi pc total", "type": "nominal"}
    }},
   {"data": {"name": "graphene"}, "mark": {"type": "line", "strokeWidth": 2.2, "clip": true},
    "encoding": {
     "x": {"field": "x", "type": "quantitative", "axis": null},
     "y": {"field": "y", "type": "quantitative", "axis": null},
     "color": {"datum": "Graphene", "type": "nominal"}
    }},
   {"data": {"values": [{}]}, "mark": {"type": "rect", "color": "#000"},
    "encoding": {"x": {"datum": -1, "type": "quantitative", "axis": null}, "x2": {"datum": -0.705}, "y": {"datum": 0.596, "type": "quantitative", "axis": null}, "y2": {"datum": 0.516}}},
   {"data": {"values": [{}]}, "mark": {"type": "text", "text": "PC", "font": "Liberation Sans", "fontSize": 36, "color": "#fff", "align": "center", "baseline": "middle"},
    "encoding": {"x": {"datum": -0.864, "type": "quantitative", "axis": null}, "y": {"datum": 0.556, "type": "quantitative", "axis": null}}},
   {"data": {"values": [{}]}, "mark": {"type": "rect", "filled": false, "color": "#14305c", "strokeWidth": 3},
    "encoding": {"x": {"datum": 0.587, "type": "quantitative", "axis": null}, "x2": {"datum": 0.943}, "y": {"datum": 0.284, "type": "quantitative", "axis": null}, "y2": {"datum": 0.004}}},
   {"data": {"values": [{}]}, "mark": {"type": "rule", "color": "#7030a0", "strokeWidth": 3},
    "encoding": {"x": {"datum": 0.764, "type": "quantitative", "axis": null}, "y": {"datum": 0.045, "type": "quantitative", "axis": null}, "y2": {"datum": 0.066}}},
   {"data": {"values": [{}]}, "mark": {"type": "point", "shape": "triangle-up", "filled": true, "opacity": 1, "color": "#7030a0", "size": 120},
    "encoding": {"x": {"datum": 0.764, "type": "quantitative", "axis": null}, "y": {"datum": 0.066, "type": "quantitative", "axis": null}}},
   {"data": {"values": [{}]}, "mark": {"type": "rule", "color": "#7030a0", "strokeWidth": 3},
    "encoding": {"x": {"datum": 0.825, "type": "quantitative", "axis": null}, "y": {"datum": -0.045, "type": "quantitative", "axis": null}, "y2": {"datum": -0.02}}},
   {"data": {"values": [{}]}, "mark": {"type": "point", "shape": "triangle-up", "filled": true, "opacity": 1, "color": "#7030a0", "size": 120},
    "encoding": {"x": {"datum": 0.825, "type": "quantitative", "axis": null}, "y": {"datum": -0.019, "type": "quantitative", "axis": null}}},
   {"data": {"values": [{}]}, "mark": {"type": "text", "text": "A", "font": "Liberation Sans", "fontSize": 22, "fontWeight": "bold", "color": "#000", "align": "center", "baseline": "alphabetic"},
    "encoding": {"x": {"datum": 0.787, "type": "quantitative", "axis": null}, "y": {"datum": 0.013, "type": "quantitative", "axis": null}}},
   {"data": {"values": [{}]}, "mark": {"type": "text", "text": "B", "font": "Liberation Sans", "fontSize": 22, "fontWeight": "bold", "color": "#000", "align": "center", "baseline": "alphabetic"},
    "encoding": {"x": {"datum": 0.829, "type": "quantitative", "axis": null}, "y": {"datum": -0.0794, "type": "quantitative", "axis": null}}},
   {"data": {"values": [{}]}, "mark": {"type": "text", "text": "F", "font": "Liberation Serif", "fontSize": 15, "color": "#000", "align": "left", "baseline": "alphabetic"},
    "encoding": {"x": {"datum": -0.012, "type": "quantitative", "axis": null}, "y": {"datum": -0.066, "type": "quantitative", "axis": null}}}
  ]
 },
 {
  "width": 526, "height": 406,
  "title": {"text": "(b)", "offset": 10, "dx": 10},
  "layer": [
   {"data": {"name": "apcSpin"}, "mark": {"type": "line", "strokeWidth": 2.4, "clip": true},
    "encoding": {
     "x": {"field": "x", "type": "quantitative", "scale": {"domain": [-1, 1], "nice": false, "zero": false},
       "axis": {"orient": "bottom", "values": [-1,-0.9,-0.8,-0.7,-0.6,-0.5,-0.4,-0.3,-0.2,-0.1,0,0.1,0.2,0.3,0.4,0.5,0.6,0.7,0.8,0.9,1],
         "labelExpr": "abs(datum.value*2-round(datum.value*2))<0.001 ? ''+datum.value : ''",
         "tickSize": {"condition": {"test": "abs(datum.value*2-round(datum.value*2))<0.001", "value": -9}, "value": -5},
         "labelPadding": 10, "title": "E - E\u00a0\u00a0\u00a0(eV)", "titlePadding": -1}},
     "y": {"field": "y", "type": "quantitative", "scale": {"domain": [0, 0.6], "nice": false, "zero": false},
       "axis": {"orient": "left", "values": [0,0.05,0.1,0.15,0.2,0.25,0.3,0.35,0.4,0.45,0.5,0.55,0.6],
         "labelExpr": "abs(datum.value*10-round(datum.value*10))<0.001 ? ''+datum.value : ''",
         "tickSize": {"condition": {"test": "abs(datum.value*10-round(datum.value*10))<0.001", "value": -9}, "value": -5},
         "labelPadding": 13, "title": "Transmission Probability (arb. unit)", "titlePadding": 12}},
     "color": {"datum": "NiGrNi apc spin-down", "type": "nominal",
       "scale": {"domain": ["NiGrNi apc spin-down", "NiGrNi apc spin-up", "NiGrNi apc total", "Graphene"], "range": ["#0000ff", "#ff0000", "#000000", "#7221bc"]},
       "legend": {"legendX": 168, "legendY": 22}}
    }},
   {"data": {"name": "apcSpin"}, "mark": {"type": "line", "strokeWidth": 2, "clip": true},
    "encoding": {
     "x": {"field": "x", "type": "quantitative",
       "axis": {"orient": "top", "values": [-1,-0.9,-0.8,-0.7,-0.6,-0.5,-0.4,-0.3,-0.2,-0.1,0,0.1,0.2,0.3,0.4,0.5,0.6,0.7,0.8,0.9,1], "labels": false, "title": null,
         "tickSize": {"condition": {"test": "abs(datum.value*2-round(datum.value*2))<0.001", "value": -9}, "value": -5}}},
     "y": {"field": "y", "type": "quantitative",
       "axis": {"orient": "right", "values": [0,0.05,0.1,0.15,0.2,0.25,0.3,0.35,0.4,0.45,0.5,0.55,0.6], "labels": false, "title": null,
         "tickSize": {"condition": {"test": "abs(datum.value*10-round(datum.value*10))<0.001", "value": -9}, "value": -5}}},
     "color": {"datum": "NiGrNi apc spin-up", "type": "nominal"}
    }},
   {"data": {"name": "apcTot"}, "mark": {"type": "line", "strokeWidth": 2, "clip": true},
    "encoding": {
     "x": {"field": "x", "type": "quantitative", "axis": null},
     "y": {"field": "y", "type": "quantitative", "axis": null},
     "color": {"datum": "NiGrNi apc total", "type": "nominal"}
    }},
   {"data": {"name": "graphene"}, "mark": {"type": "line", "strokeWidth": 2.2, "clip": true},
    "encoding": {
     "x": {"field": "x", "type": "quantitative", "axis": null},
     "y": {"field": "y", "type": "quantitative", "axis": null},
     "color": {"datum": "Graphene", "type": "nominal"}
    }},
   {"data": {"values": [{}]}, "mark": {"type": "rect", "color": "#000"},
    "encoding": {"x": {"datum": -1, "type": "quantitative", "axis": null}, "x2": {"datum": -0.653}, "y": {"datum": 0.6, "type": "quantitative", "axis": null}, "y2": {"datum": 0.5295}}},
   {"data": {"values": [{}]}, "mark": {"type": "text", "text": "APC", "font": "Liberation Sans", "fontSize": 35, "color": "#fff", "align": "center", "baseline": "middle"},
    "encoding": {"x": {"datum": -0.8365, "type": "quantitative", "axis": null}, "y": {"datum": 0.564, "type": "quantitative", "axis": null}}},
   {"data": {"values": [{}]}, "mark": {"type": "text", "text": "F", "font": "Liberation Serif", "fontSize": 15, "color": "#000", "align": "left", "baseline": "alphabetic"},
    "encoding": {"x": {"datum": -0.012, "type": "quantitative", "axis": null}, "y": {"datum": -0.066, "type": "quantitative", "axis": null}}}
  ]
 }
]
}
